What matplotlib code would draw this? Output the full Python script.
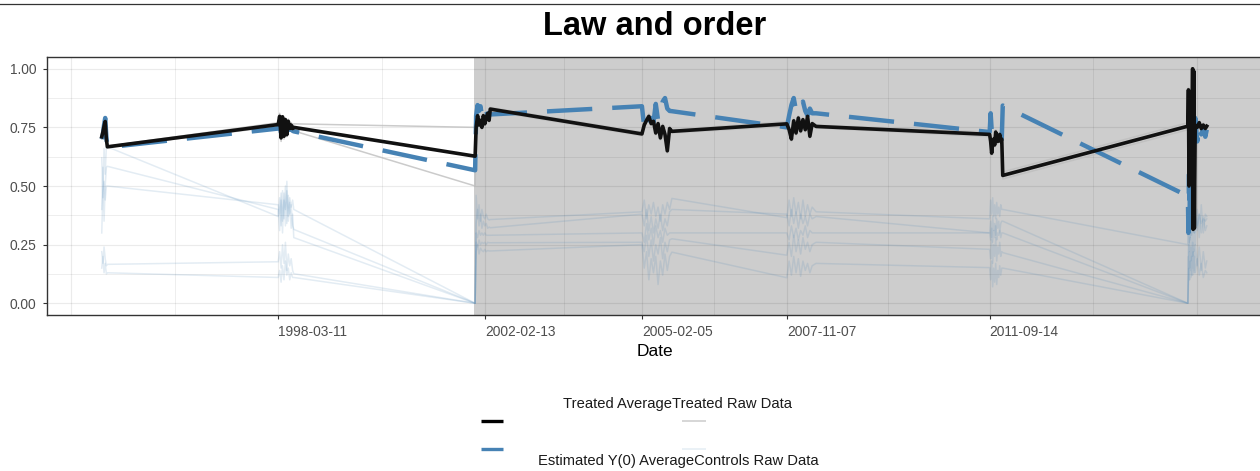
import numpy as np
import matplotlib
matplotlib.use("Agg")
import matplotlib.pyplot as plt
import matplotlib.dates as mdates
from matplotlib.lines import Line2D

plt.rcParams['font.family'] = ['Liberation Sans', 'DejaVu Sans']

# ---------------- data ----------------
dates_a = ["1994-11-03", "1994-11-11", "1994-11-19", "1994-11-27", "1994-12-05", "1994-12-12"]
dates_b = ["1998-03-11", "1998-03-21", "1998-03-31", "1998-04-10", "1998-04-20", "1998-04-30",
           "1998-05-10", "1998-05-20", "1998-05-30", "1998-06-09", "1998-06-19", "1998-06-27"]
dates_c = ["2001-12-06", "2001-12-13", "2001-12-23", "2002-01-02", "2002-01-12", "2002-01-22",
           "2002-02-01", "2002-02-11", "2002-02-21", "2002-03-03", "2002-03-13", "2002-03-21"]
dates_d = ["2005-02-05", "2005-02-21", "2005-03-09", "2005-03-25", "2005-04-10", "2005-04-26",
           "2005-05-12", "2005-05-28", "2005-06-13", "2005-06-29", "2005-07-15", "2005-07-31",
           "2005-08-16", "2005-09-01"]
dates_e = ["2007-11-07", "2007-11-23", "2007-12-09", "2007-12-25", "2008-01-10", "2008-01-26",
           "2008-02-11", "2008-02-27", "2008-03-14", "2008-03-30", "2008-04-15", "2008-05-01",
           "2008-05-28"]
dates_f = ["2011-09-14", "2011-09-21", "2011-09-28", "2011-10-05", "2011-10-12", "2011-10-19",
           "2011-10-26", "2011-11-02", "2011-11-09", "2011-11-16", "2011-11-23", "2011-11-30",
           "2011-12-07", "2011-12-14"]
dates_g = ["2015-06-20", "2015-06-24", "2015-06-28", "2015-07-02", "2015-07-06", "2015-07-10",
           "2015-07-16", "2015-07-23", "2015-07-27", "2015-07-31", "2015-08-04", "2015-08-10",
           "2015-08-24", "2015-09-07", "2015-09-21", "2015-10-05", "2015-10-19", "2015-10-29"]
dates = dates_a + dates_b + dates_c + dates_d + dates_e + dates_f + dates_g

treated_avg = [
    0.71, 0.73, 0.755, 0.775, 0.70, 0.667,
    0.762, 0.797, 0.705, 0.795, 0.712, 0.783, 0.719, 0.776, 0.745, 0.760, 0.745, 0.750,
    0.627, 0.75, 0.80, 0.76, 0.78, 0.75, 0.80, 0.765, 0.79, 0.81, 0.78, 0.828,
    0.722, 0.76, 0.78, 0.797, 0.766, 0.776, 0.726, 0.766, 0.705, 0.754, 0.72, 0.65, 0.745, 0.733,
    0.765, 0.74, 0.70, 0.778, 0.726, 0.79, 0.735, 0.783, 0.74, 0.797, 0.712, 0.766, 0.754,
    0.72, 0.69, 0.64, 0.685, 0.70, 0.675, 0.73, 0.71, 0.69, 0.70, 0.72, 0.69, 0.70, 0.545,
    0.755, 0.91, 0.50, 0.90, 0.52, 0.88, 0.60, 1.00, 0.315, 0.99, 0.32, 0.76, 0.75, 0.77, 0.745, 0.76, 0.745, 0.755,
]
estimated_y0 = [
    0.70, 0.72, 0.76, 0.79, 0.71, 0.665,
    0.745, 0.775, 0.72, 0.77, 0.72, 0.765, 0.73, 0.755, 0.74, 0.745, 0.735, 0.733,
    0.567, 0.80, 0.845, 0.82, 0.84, 0.80, 0.83, 0.81, 0.82, 0.80, 0.81, 0.805,
    0.84, 0.75, 0.80, 0.78, 0.79, 0.77, 0.85, 0.78, 0.80, 0.86, 0.875, 0.83, 0.82, 0.819,
    0.75, 0.80, 0.845, 0.875, 0.82, 0.85, 0.84, 0.86, 0.82, 0.80, 0.83, 0.81, 0.81,
    0.73, 0.81, 0.74, 0.725, 0.75, 0.74, 0.745, 0.73, 0.72, 0.71, 0.70, 0.71, 0.70, 0.843,
    0.457, 0.30, 0.55, 0.32, 0.75, 0.40, 0.72, 0.78, 0.33, 0.80, 0.70, 0.79, 0.69, 0.76, 0.72, 0.75, 0.71, 0.74,
]
treated_raw_1 = [
    0.70, 0.74, 0.76, 0.78, 0.70, 0.67,
    0.77, 0.81, 0.72, 0.80, 0.725, 0.79, 0.73, 0.785, 0.755, 0.77, 0.755, 0.765,
    0.75, 0.76, 0.81, 0.77, 0.79, 0.76, 0.81, 0.775, 0.80, 0.82, 0.79, 0.835,
    0.73, 0.77, 0.79, 0.81, 0.775, 0.785, 0.735, 0.775, 0.715, 0.765, 0.73, 0.66, 0.755, 0.74,
    0.775, 0.75, 0.71, 0.79, 0.735, 0.80, 0.745, 0.79, 0.75, 0.805, 0.72, 0.775, 0.76,
    0.73, 0.70, 0.65, 0.695, 0.71, 0.685, 0.74, 0.72, 0.70, 0.71, 0.73, 0.70, 0.71, 0.56,
    0.77, 0.92, 0.52, 0.91, 0.53, 0.89, 0.61, 1.00, 0.32, 1.00, 0.33, 0.77, 0.76, 0.78, 0.755, 0.77, 0.75, 0.76,
]
treated_raw_2 = [
    0.72, 0.72, 0.75, 0.77, 0.70, 0.665,
    0.755, 0.785, 0.69, 0.79, 0.70, 0.775, 0.71, 0.77, 0.735, 0.75, 0.735, 0.735,
    0.50, 0.74, 0.79, 0.75, 0.77, 0.74, 0.79, 0.755, 0.78, 0.80, 0.77, 0.82,
    0.714, 0.75, 0.77, 0.785, 0.757, 0.767, 0.717, 0.757, 0.695, 0.743, 0.71, 0.64, 0.735, 0.726,
    0.755, 0.73, 0.69, 0.765, 0.715, 0.78, 0.725, 0.775, 0.73, 0.79, 0.70, 0.757, 0.748,
    0.71, 0.68, 0.63, 0.675, 0.69, 0.665, 0.72, 0.70, 0.68, 0.69, 0.71, 0.68, 0.69, 0.53,
    0.74, 0.90, 0.48, 0.89, 0.51, 0.87, 0.59, 0.99, 0.31, 0.98, 0.31, 0.75, 0.74, 0.76, 0.735, 0.75, 0.74, 0.75,
]
control_raw_1 = [
    0.62, 0.45, 0.66, 0.55, 0.67, 0.667,
    0.37, 0.45, 0.33, 0.48, 0.36, 0.50, 0.34, 0.46, 0.38, 0.42, 0.33, 0.315,
    0.0, 0.46, 0.36, 0.42, 0.35, 0.40, 0.37, 0.36, 0.38, 0.36, 0.355, 0.357,
    0.39, 0.44, 0.36, 0.42, 0.38, 0.43, 0.37, 0.41, 0.35, 0.42, 0.38, 0.43, 0.40, 0.447,
    0.365, 0.44, 0.37, 0.45, 0.38, 0.43, 0.36, 0.44, 0.37, 0.42, 0.38, 0.41, 0.39,
    0.36, 0.44, 0.38, 0.45, 0.37, 0.42, 0.36, 0.43, 0.38, 0.41, 0.37, 0.42, 0.40, 0.40,
    0.25, 0.30, 0.26, 0.33, 0.28, 0.35, 0.29, 0.38, 0.31, 0.36, 0.30, 0.37, 0.33, 0.38, 0.34, 0.36, 0.35, 0.36,
]
control_raw_2 = [
    0.40, 0.58, 0.35, 0.50, 0.58, 0.584,
    0.40, 0.31, 0.44, 0.30, 0.47, 0.33, 0.52, 0.35, 0.43, 0.32, 0.38, 0.28,
    0.0, 0.34, 0.40, 0.33, 0.38, 0.32, 0.35, 0.33, 0.34, 0.32, 0.325, 0.322,
    0.38, 0.33, 0.40, 0.31, 0.37, 0.30, 0.36, 0.32, 0.38, 0.31, 0.36, 0.33, 0.39, 0.40,
    0.38, 0.33, 0.40, 0.34, 0.39, 0.32, 0.38, 0.34, 0.37, 0.33, 0.38, 0.36, 0.37,
    0.30, 0.35, 0.28, 0.37, 0.31, 0.34, 0.29, 0.36, 0.32, 0.35, 0.30, 0.34, 0.35, 0.35,
    0.00, 0.12, 0.25, 0.15, 0.28, 0.18, 0.30, 0.20, 0.35, 0.22, 0.38, 0.25, 0.40, 0.28, 0.42, 0.30, 0.38, 0.37,
]
control_raw_3 = [
    0.30, 0.48, 0.52, 0.44, 0.50, 0.50,
    0.42, 0.38, 0.47, 0.35, 0.44, 0.40, 0.48, 0.37, 0.45, 0.41, 0.44, 0.40,
    0.0, 0.26, 0.24, 0.27, 0.25, 0.26, 0.255, 0.26, 0.25, 0.26, 0.258, 0.258,
    0.26, 0.22, 0.29, 0.20, 0.27, 0.18, 0.25, 0.21, 0.28, 0.19, 0.26, 0.22, 0.27, 0.275,
    0.205, 0.26, 0.20, 0.29, 0.22, 0.27, 0.21, 0.28, 0.23, 0.26, 0.22, 0.25, 0.26,
    0.23, 0.19, 0.27, 0.17, 0.25, 0.20, 0.28, 0.18, 0.24, 0.21, 0.26, 0.20, 0.22, 0.216,
    0.00, 0.20, 0.10, 0.22, 0.14, 0.24, 0.12, 0.26, 0.15, 0.23, 0.13, 0.25, 0.16, 0.24, 0.14, 0.22, 0.15, 0.18,
]
control_raw_4 = [
    0.22, 0.17, 0.24, 0.19, 0.16, 0.166,
    0.177, 0.22, 0.15, 0.25, 0.17, 0.26, 0.14, 0.21, 0.16, 0.19, 0.14, 0.126,
    0.0, 0.22, 0.25, 0.21, 0.235, 0.225, 0.22, 0.23, 0.22, 0.225, 0.223, 0.223,
    0.25, 0.15, 0.22, 0.10, 0.19, 0.13, 0.20, 0.08, 0.18, 0.12, 0.21, 0.14, 0.20, 0.218,
    0.109, 0.18, 0.12, 0.20, 0.13, 0.19, 0.115, 0.18, 0.14, 0.17, 0.13, 0.16, 0.17,
    0.152, 0.10, 0.18, 0.07, 0.15, 0.09, 0.17, 0.08, 0.14, 0.11, 0.16, 0.12, 0.15, 0.15,
    0.00, 0.08, 0.15, 0.10, 0.18, 0.11, 0.20, 0.12, 0.22, 0.14, 0.20, 0.13, 0.19, 0.12, 0.17, 0.11, 0.14, 0.13,
]
control_raw_5 = [
    0.15, 0.20, 0.13, 0.17, 0.125, 0.13,
    0.11, 0.14, 0.09, 0.16, 0.10, 0.18, 0.12, 0.15, 0.10, 0.13, 0.11, 0.11,
    0.0, 0.30, 0.28, 0.31, 0.29, 0.30, 0.29, 0.30, 0.29, 0.29, 0.29, 0.29,
    0.30, 0.26, 0.34, 0.27, 0.32, 0.25, 0.33, 0.28, 0.31, 0.26, 0.32, 0.29, 0.30, 0.30,
    0.30, 0.27, 0.33, 0.28, 0.32, 0.27, 0.31, 0.29, 0.33, 0.28, 0.31, 0.30, 0.30,
    0.30, 0.27, 0.32, 0.26, 0.31, 0.28, 0.33, 0.27, 0.30, 0.29, 0.31, 0.28, 0.30, 0.30,
    0.00, 0.30, 0.22, 0.35, 0.27, 0.40, 0.30, 0.44, 0.32, 0.41, 0.30, 0.39, 0.31, 0.38, 0.30, 0.37, 0.31, 0.33,
]
controls_raw = [control_raw_1, control_raw_2, control_raw_3, control_raw_4, control_raw_5]
treated_raw = [treated_raw_1, treated_raw_2]

treatment_start = "2001-11-29"
x_tick_dates = ["1998-03-11", "2002-02-13", "2005-02-05", "2007-11-07", "2011-09-14"]
x_grid_extra = ["1994-04-05", "2015-08-19"]
y_ticks = [0.0, 0.25, 0.50, 0.75, 1.00]
legend_labels = ["Treated Average", "Treated Raw Data", "Estimated Y(0) Average", "Controls Raw Data"]

# ---------------- figure ----------------
W, H = 1260, 471
fig = plt.figure(figsize=(W / 100, H / 100), dpi=100)

def fx(px):
    return px / W

def fy(py):
    return 1 - py / H

ax = fig.add_axes([fx(46.5), fy(315), fx(1262 - 46.5), (315 - 57) / H])

xn = mdates.date2num(np.array(dates, dtype="datetime64[D]"))
pad = 0.05 * (xn.max() - xn.min())
xlo, xhi = xn.min() - pad, xn.max() + pad

STEEL = "#4682B4"

# shaded treatment period
ts = mdates.date2num(np.datetime64(treatment_start))
ax.axvspan(ts, xhi + 10 * pad, color="#CDCDCD", zorder=0, lw=0)

# grid
major_x = sorted(mdates.date2num(np.array(x_tick_dates + x_grid_extra, dtype="datetime64[D]")))
minor_x = [(a + b) / 2 for a, b in zip(major_x[:-1], major_x[1:])]
grid_col = (0, 0, 0, 0.08)
for gx in major_x:
    ax.axvline(gx, color=grid_col, lw=0.85, zorder=1)
for gx in minor_x:
    ax.axvline(gx, color=grid_col, lw=0.6, zorder=1)
for gy in y_ticks:
    ax.axhline(gy, color=grid_col, lw=0.85, zorder=1)
for a, b in zip(y_ticks[:-1], y_ticks[1:]):
    ax.axhline((a + b) / 2, color=grid_col, lw=0.6, zorder=1)

# series
for c in controls_raw:
    ax.plot(xn, c, color=STEEL, alpha=0.15, lw=1.1, zorder=2)
for t in treated_raw:
    ax.plot(xn, t, color="#BEBEBE", alpha=0.8, lw=1.1, zorder=3)
ax.plot(xn, estimated_y0, color=STEEL, lw=3.2, linestyle=(0, (10.2, 4.5)),
        dash_capstyle="butt", zorder=4)
ax.plot(xn, treated_avg, color="#111111", lw=2.6, solid_joinstyle="round", zorder=5)

ax.set_xlim(xlo, xhi)
ax.set_ylim(-0.05, 1.05)

ax.set_xticks(mdates.date2num(np.array(x_tick_dates, dtype="datetime64[D]")))
ax.set_xticklabels(x_tick_dates)
for lab in ax.get_xticklabels():
    lab.set_ha("left")
ax.set_yticks(y_ticks)
ax.set_yticklabels([f"{v:.2f}" for v in y_ticks])
ax.tick_params(axis="both", length=3, width=0.8, color="#333333",
               labelsize=9.9, labelcolor="#4D4D4D", pad=4.2)

for s in ax.spines.values():
    s.set_color("#333333")
    s.set_linewidth(1.0)
    s.set_zorder(6)

# titles
fig.text(fx(655), fy(26.5), "Law and order", ha="center", va="center",
         fontsize=23.5, fontweight="bold", color="black")
fig.text(fx(655), fy(351), "Date", ha="center", va="center", fontsize=12.5, color="black")

# top rule
fig.add_artist(Line2D([0, 1], [fy(3.5), fy(3.5)], transform=fig.transFigure,
                      color="#333333", lw=0.9))

# legend (manual, ggplot-like layout)
fig.add_artist(Line2D([fx(481), fx(503)], [fy(421), fy(421)], transform=fig.transFigure,
                      color="black", lw=2.4, solid_capstyle="butt"))
fig.add_artist(Line2D([fx(682), fx(706)], [fy(421), fy(421)], transform=fig.transFigure,
                      color="#D3D3D3", lw=1.3, solid_capstyle="butt"))
fig.add_artist(Line2D([fx(481), fx(503)], [fy(448.5), fy(448.5)], transform=fig.transFigure,
                      color=STEEL, lw=2.4, solid_capstyle="butt"))
fig.add_artist(Line2D([fx(682), fx(706)], [fy(449), fy(449)], transform=fig.transFigure,
                      color=STEEL, alpha=0.12, lw=1.3, solid_capstyle="butt"))
fig.text(fx(563), fy(404), legend_labels[0] + legend_labels[1], ha="left", va="center",
         fontsize=10.6, color="#1A1A1A")
fig.text(fx(538), fy(461), legend_labels[2] + legend_labels[3], ha="left", va="center",
         fontsize=10.6, color="#1A1A1A")

fig.savefig("out.png", dpi=100)
